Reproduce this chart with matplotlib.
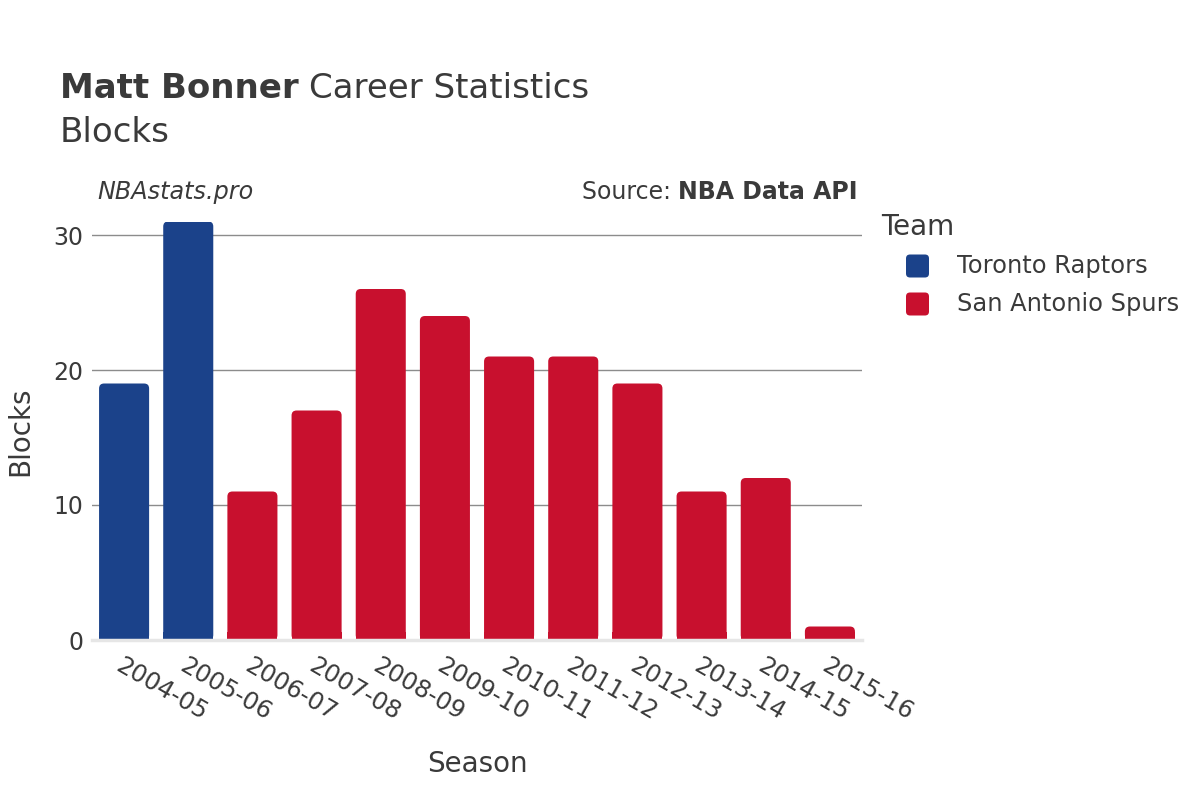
import matplotlib
matplotlib.use("Agg")
import matplotlib.pyplot as plt
from matplotlib.patches import FancyBboxPatch

seasons = ["2004-05", "2005-06", "2006-07", "2007-08", "2008-09", "2009-10",
           "2010-11", "2011-12", "2012-13", "2013-14", "2014-15", "2015-16"]
teams = ["Toronto Raptors", "Toronto Raptors", "San Antonio Spurs", "San Antonio Spurs",
         "San Antonio Spurs", "San Antonio Spurs", "San Antonio Spurs", "San Antonio Spurs",
         "San Antonio Spurs", "San Antonio Spurs", "San Antonio Spurs", "San Antonio Spurs"]
blocks = [19, 31, 11, 17, 26, 24, 21, 21, 19, 11, 12, 1]
team_names = ["Toronto Raptors", "San Antonio Spurs"]
team_colors = {"Toronto Raptors": "#1B428A", "San Antonio Spurs": "#C8102E"}

plt.rcParams['font.family'] = ['DejaVu Sans']
TXT = "#3a3a3a"
W, H = 1200, 800

fig = plt.figure(figsize=(12, 8), dpi=100)
ax = fig.add_axes([92/W, 1 - 640/H, (862-92)/W, 418.5/H])

x = list(range(len(seasons)))
bw = 0.78
ax.set_xlim(-0.5, len(seasons) - 0.5)
ax.set_ylim(0, 31)

px_x = (862 - 92) / len(seasons)
px_y = 418.5 / 31
r = 5 / px_x
aspect = px_x / px_y

for i, (v, t) in enumerate(zip(blocks, teams)):
    col = team_colors[t]
    p = FancyBboxPatch((i - bw/2, 0), bw, v,
                       boxstyle=f"round,pad=0,rounding_size={r}",
                       mutation_aspect=aspect, facecolor=col, edgecolor="none", zorder=3)
    ax.add_patch(p)
    ax.bar(i, min(v, 0.6), width=bw, bottom=0, color=col, zorder=3, linewidth=0)

for y in [10, 20, 30]:
    ax.axhline(y, color="#8c8c8c", lw=1, zorder=1)
ax.axhline(0, color="#e6e6e6", lw=2.5, zorder=4, clip_on=False)

for s in ax.spines.values():
    s.set_visible(False)
ax.set_yticks([0, 10, 20, 30])
ax.set_yticklabels(["0", "10", "20", "30"], fontsize=17, color=TXT)
ax.tick_params(axis="y", length=0, pad=6)
ax.set_xticks(x)
ax.set_xticklabels(seasons, rotation=-30, ha="left", va="top", rotation_mode="anchor",
                   fontsize=17.5, color=TXT)
ax.tick_params(axis="x", length=0, pad=10)

ax.set_xlabel("Season", fontsize=20, color=TXT, labelpad=18)
ax.set_ylabel("Blocks", fontsize=20, color=TXT, labelpad=14)

fig.text(60/W, 1 - 89/H, "Matt Bonner", fontsize=24.5, fontweight="bold", color=TXT, va="center")
fig.text(309/W, 1 - 89/H, "Career Statistics", fontsize=24.5, color=TXT, va="center")
fig.text(60/W, 1 - 132/H, "Blocks", fontsize=24.5, color=TXT, va="center")

fig.text(97/W, 1 - 192/H, "NBAstats.pro", fontsize=17.2, style="italic", color=TXT, va="center")
src = fig.text(858/W, 1 - 192/H, "NBA Data API", fontsize=17, fontweight="bold", color=TXT,
               va="center", ha="right")
fig.canvas.draw()
bb = src.get_window_extent()
fig.text(bb.x0 / W, 1 - 192/H, "Source: ", fontsize=17, color=TXT, va="center", ha="right")

fig.text(881/W, 1 - 227/H, "Team", fontsize=20, color=TXT, va="center")
for k, t in enumerate(team_names):
    yc = 266 + 38 * k
    sq = 23
    p = FancyBboxPatch(((906)/W, 1 - (yc + sq/2)/H), sq/W, sq/H,
                       boxstyle=f"round,pad=0,rounding_size={4/W}", mutation_aspect=W/H,
                       transform=fig.transFigure, facecolor=team_colors[t], edgecolor="none")
    fig.patches.append(p)
    fig.text(957/W, 1 - yc/H, t, fontsize=17.4, color=TXT, va="center")

fig.savefig("out.png", dpi=100, facecolor="white")
